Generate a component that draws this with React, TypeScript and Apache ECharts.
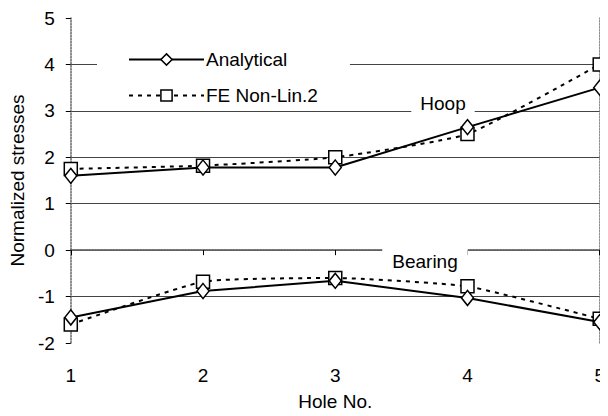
import React, { useEffect, useRef } from "react";
import * as echarts from "echarts";

const holes = [1, 2, 3, 4, 5];
const analyticalHoop = [1.6, 1.78, 1.78, 2.65, 3.5];
const feHoop = [1.75, 1.82, 2.0, 2.5, 4.0];
const analyticalBearing = [-1.45, -0.88, -0.66, -1.03, -1.55];
const feBearing = [-1.6, -0.68, -0.6, -0.78, -1.48];
const yTicks = { min: -2, max: 5, interval: 1 };
const FONT = "'Liberation Sans', Arial, sans-serif";
const FS = 19;

function pairs(xs: number[], ys: number[]) {
  return xs.map((x, i) => [x, ys[i]]);
}

export default function App() {
  const ref = useRef<HTMLDivElement>(null);
  useEffect(() => {
    if (!ref.current) return;
    const chart = echarts.init(ref.current, undefined, { renderer: "svg" });
    const solid = {
      type: "line",
      name: "Analytical",
      symbol: "diamond",
      symbolSize: [12, 15],
      lineStyle: { color: "#000", width: 2, type: "solid" },
      itemStyle: { color: "#fff", borderColor: "#000", borderWidth: 1.5 },
      z: 4,
    };
    const dashed = {
      type: "line",
      name: "FE Non-Lin.2",
      symbol: "rect",
      symbolSize: 13,
      smooth: 0.15,
      lineStyle: { color: "#000", width: 2, type: [4, 5] },
      itemStyle: { color: "#fff", borderColor: "#000", borderWidth: 1.5 },
      z: 3,
    };
    const gridColors = ["rgba(0,0,0,0)", "#444", "#444", "#444", "#444", "#444", "#444", "rgba(0,0,0,0)"];
    chart.setOption({
      animation: false,
      textStyle: { fontFamily: FONT },
      grid: { left: 67, right: 3, top: 18, bottom: 71 },
      legend: {
        orient: "vertical",
        left: 97,
        top: 40,
        padding: [10, 32, 2, 31],
        backgroundColor: "#fff",
        itemWidth: 75,
        itemHeight: 14,
        itemGap: 17,
        itemStyle: { color: "#fff", borderColor: "#000", borderWidth: 1.5 },
        textStyle: { fontSize: FS, lineHeight: 19, color: "#000", fontFamily: FONT, padding: [0, 0, 0, -3] },
        data: ["Analytical", "FE Non-Lin.2"],
        z: 6,
      },
      graphic: [
        {
          type: "text",
          z: 6,
          style: {
            text: "Hoop",
            x: 443,
            y: 103,
            align: "center",
            verticalAlign: "middle",
            font: `${FS}px ${FONT}`,
            fill: "#000",
            backgroundColor: "#fff",
            padding: [3, 9],
          },
        },
        {
          type: "text",
          z: 6,
          style: {
            text: "Bearing",
            x: 425,
            y: 261,
            align: "center",
            verticalAlign: "middle",
            font: `${FS}px ${FONT}`,
            fill: "#000",
            backgroundColor: "#fff",
            padding: [3, 10],
          },
        },
      ],
      xAxis: [
        {
          type: "value",
          min: 1,
          max: 5,
          interval: 1,
          name: "Hole No.",
          nameLocation: "middle",
          nameGap: 49,
          nameTextStyle: { fontSize: FS, color: "#000", fontFamily: FONT },
          axisLine: { show: true, lineStyle: { color: "#666", type: "dotted", width: 1.5 } },
          axisTick: { show: true, length: 5, lineStyle: { color: "#000" } },
          axisLabel: { fontSize: FS, color: "#000", margin: 23 },
          splitLine: { show: false },
        },
        {
          type: "value",
          position: "top",
          min: 1,
          max: 5,
          axisLine: { show: true, lineStyle: { color: "#666", type: "dotted", width: 1.5 } },
          axisTick: { show: false },
          axisLabel: { show: false },
          splitLine: { show: false },
        },
      ],
      yAxis: [
        {
          type: "value",
          min: yTicks.min,
          max: yTicks.max,
          interval: yTicks.interval,
          name: "Normalized stresses",
          nameLocation: "middle",
          nameGap: 39,
          nameTextStyle: { fontSize: FS, color: "#000", fontFamily: FONT },
          axisLine: { show: true, lineStyle: { color: "#666", type: "dotted", width: 1.5 } },
          axisTick: { show: true, length: 5, lineStyle: { color: "#000" } },
          axisLabel: { fontSize: FS, color: "#000", margin: 16 },
          splitLine: { show: true, lineStyle: { color: gridColors, width: 1 } },
        },
        {
          type: "value",
          position: "right",
          min: yTicks.min,
          max: yTicks.max,
          interval: yTicks.interval,
          axisLine: { show: true, lineStyle: { color: "#666", type: "dotted", width: 1.5 } },
          axisTick: { show: false },
          axisLabel: { show: false },
          splitLine: { show: false },
        },
      ],
      series: [
        { ...dashed, data: pairs(holes, feHoop) },
        { ...dashed, data: pairs(holes, feBearing) },
        { ...solid, data: pairs(holes, analyticalHoop) },
        { ...solid, data: pairs(holes, analyticalBearing) },
      ],
    });
    return () => chart.dispose();
  }, []);
  return <div ref={ref} style={{ width: 608, height: 416, margin: -8 }} />;
}
